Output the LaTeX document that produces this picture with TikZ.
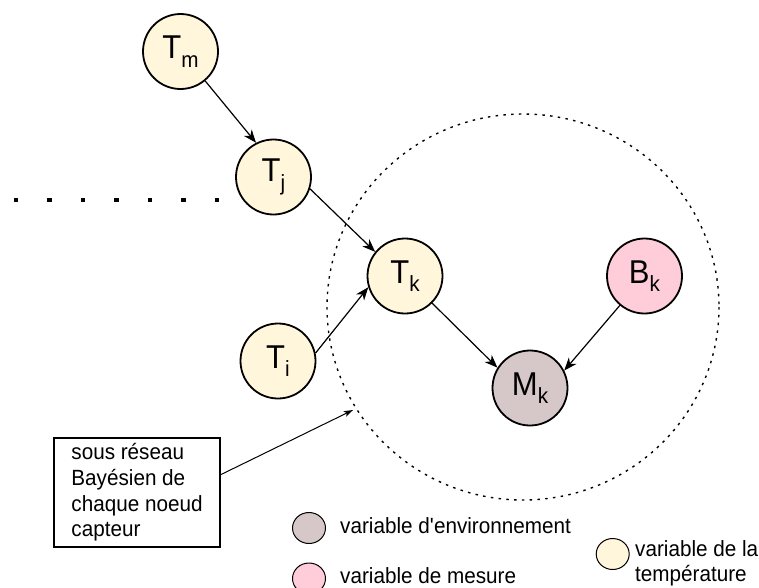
\documentclass[tikz,border=0pt]{standalone}
\usepackage{fontspec}
\setmainfont{Liberation Sans}[FakeStretch=0.94]
\usetikzlibrary{arrows.meta,shapes.geometric}
\definecolor{cream}{HTML}{FFF6DB}
\definecolor{pinkv}{HTML}{FFCCDA}
\definecolor{mauve}{HTML}{D6C7C8}
\newcommand{\vlab}[2]{{\fontsize{33}{33}\selectfont #1\raisebox{-8.5pt}{\fontsize{22}{22}\selectfont #2}}}
\tikzset{
  var/.style={circle, draw=black, line width=1.8pt, minimum size=75pt, inner sep=0pt},
  tempv/.style={var, fill=cream},
  mesv/.style={var, fill=pinkv},
  envv/.style={var, fill=mauve},
  link/.style={line width=1.2pt, -{Stealth[length=13pt,width=10pt,inset=4pt]}},
  thinlink/.style={line width=1pt, -{Stealth[length=9pt,width=6pt,inset=2pt]}},
  legv/.style={ellipse, draw=black, line width=1pt, minimum width=33pt, minimum height=31pt, inner sep=0pt},
  legtxt/.style={anchor=base west, inner sep=0pt, font=\fontsize{22}{25}\selectfont, align=left},
  subnet/.style={draw=black, line width=1.4pt, dash pattern=on 2.5pt off 5.3pt},
  notebox/.style={draw=black, line width=1.2pt, fill=white, minimum width=166pt, minimum height=109pt, align=left, font=\fontsize{22}{25.7}\selectfont, inner sep=0pt}
}
\begin{document}
\begin{tikzpicture}[x=1pt,y=-1pt]
\useasboundingbox (0,0) rectangle (759,587);
\fill[white] (0,0) rectangle (759,587);
% dotted sub-network boundary
\draw[subnet] (523,307) ellipse [x radius=196, y radius=193];
% chain dots
\foreach \k in {0,...,6} {
  \fill ({15.8+33.5*\k-2.2},197.8) rectangle ++(4.4,4.4);
}
% variables
\node[tempv] (Tm) at (180.5,51.5) {\vlab{T}{m}};
\node[tempv] (Tj) at (273.5,177) {\vlab{T}{j}};
\node[tempv] (Tk) at (405,276) {\vlab{T}{k}};
\node[tempv] (Ti) at (278,361) {\vlab{T}{i}};
\node[mesv] (Bk) at (644.5,276) {\vlab{B}{k}};
\node[envv] (Mk) at (530,388) {\vlab{M}{k}};
% links
\draw[link] (Tm.-50) -- (Tj.117);
\draw[link] (Tj.-18) -- (Tk.141);
\draw[link] (Ti.12) -- (Tk.197);
\draw[link] (Tk.-45) -- (Mk.148);
\draw[link] (Bk.-130) -- (Mk.27);
% note box
\node[notebox] (note) at (137,492.5) {sous réseau\\Bayésien de\\chaque noeud\\capteur};
\coordinate (ring) at (353,410);
\draw[thinlink] (note.12.6) -- (ring);
% legend
\node[legv, fill=mauve] (legE) at (309,528) {};
\node[legtxt] (legEt) at (340,533) {variable d\textquotesingle environnement};
\node[legv, fill=pinkv] (legM) at (309,578.5) {};
\node[legtxt, text depth=0pt] (legMt) at (340,583) {variable de mesure};
\node[legv, fill=cream] (legT) at (612.7,554) {};
\node[legtxt] (legTt) at (635,581.7) {variable de la\\température};
\end{tikzpicture}
\end{document}
